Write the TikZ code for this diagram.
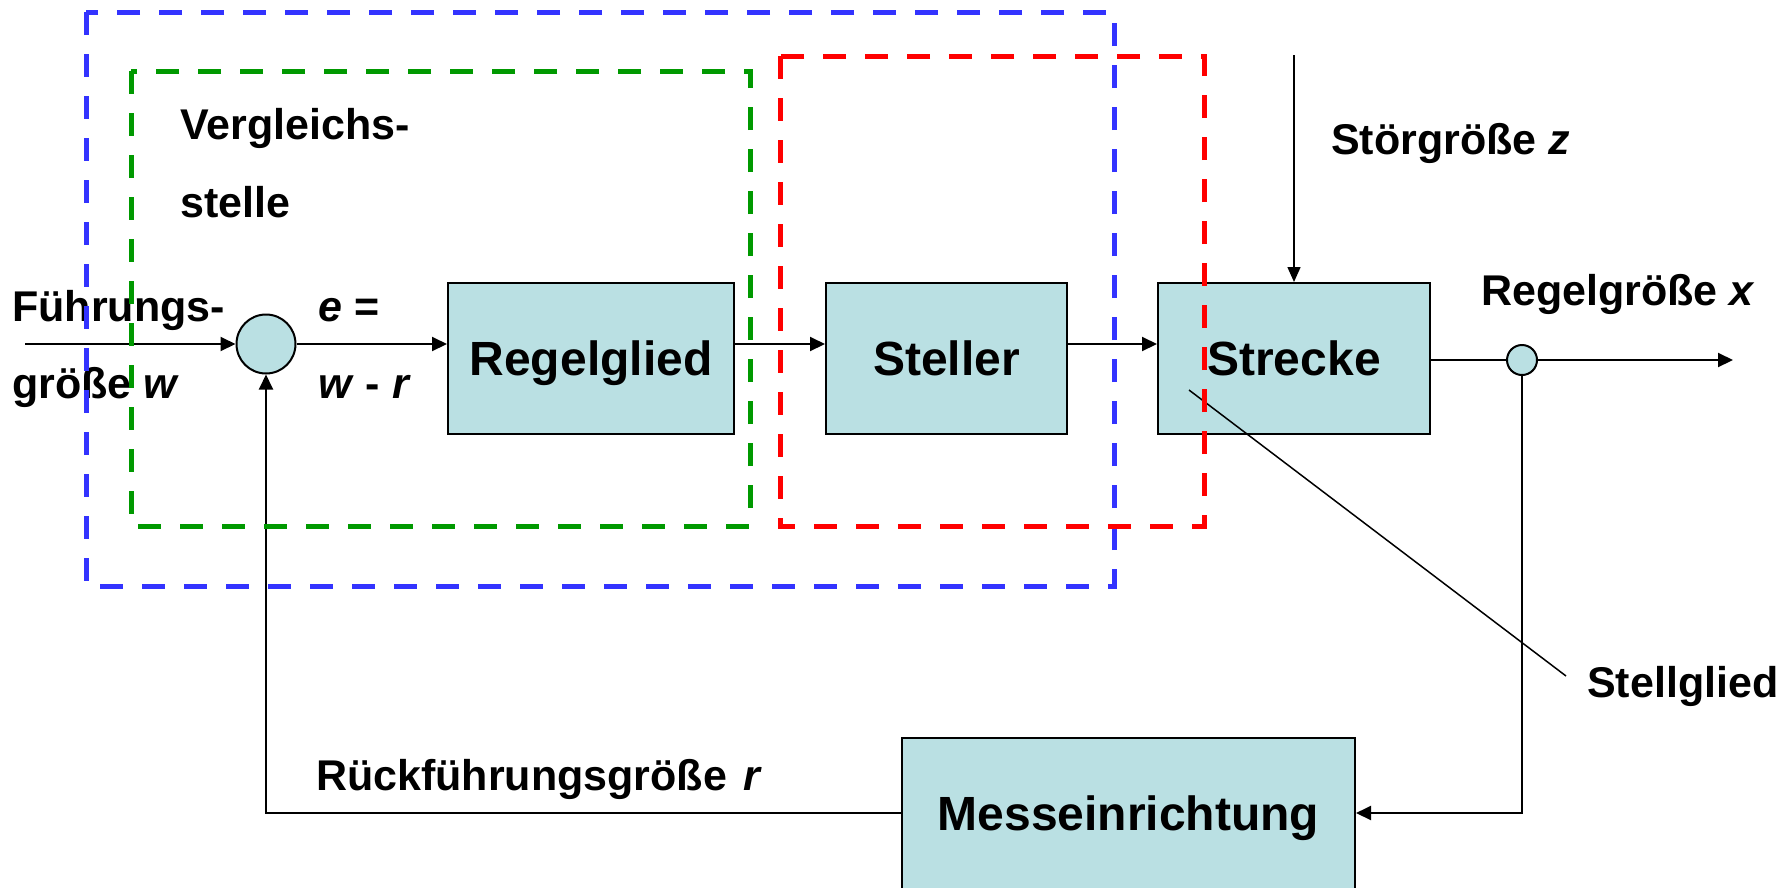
\documentclass[tikz,border=0pt]{standalone}
\usepackage{fontspec}
\setmainfont{Liberation Sans}
\usetikzlibrary{arrows.meta}
\definecolor{boxfill}{RGB}{186,224,227}
\definecolor{dblue}{RGB}{51,51,255}
\definecolor{dgreen}{RGB}{0,153,0}
\definecolor{dred}{RGB}{255,0,0}
\begin{document}
\begin{tikzpicture}[x=1pt,y=-1pt,
  blk/.style={draw=black, line width=2pt, fill=boxfill, minimum width=#1, minimum height=151pt,
    inner sep=0pt, font=\fontsize{48}{50}\selectfont\bfseries, text height=34pt, text depth=0pt},
  sumc/.style={circle, draw=black, line width=2pt, fill=boxfill, minimum size=#1, inner sep=0pt},
  lbl/.style={anchor=base west, inner sep=0pt, font=\fontsize{43}{46}\selectfont\bfseries},
  conn/.style={line width=2pt, -{Triangle[length=15pt,width=14pt]}},
  plain/.style={line width=2pt},
  thin/.style={line width=1.5pt},
  grp/.style={line width=5pt, dash pattern=on 23pt off 19pt, draw=#1}
]
\useasboundingbox (0,0) rectangle (1791,887);

% blocks
\node[blk=286pt] (reg) at (591,358.5) {Regelglied};
\node[blk=241pt] (stel) at (946.5,358.5) {Steller};
\node[blk=272pt] (str) at (1294,358.5) {Strecke};
\node[blk=453pt] (mess) at (1128.5,813) {Messeinrichtung};
\node[sumc=59pt] (sum) at (266,344) {};
\node[sumc=30pt] (out) at (1522,360) {};

% free ends
\coordinate (win) at (25,344);
\coordinate (xend) at (1733,360);
\coordinate (ztop) at (1294,55);
\coordinate (sgA) at (1189,390);
\coordinate (sgB) at (1566,676);

% connectors
\draw[conn] (win) -- (sum.west);
\draw[conn] (sum.east) -- (sum.east -| reg.west);
\draw[conn] (reg.east |- sum.east) -- (stel.west |- sum.east);
\draw[conn] (stel.east |- sum.east) -- (str.west |- sum.east);
\draw[plain] (str.east |- out.west) -- (out.west);
\draw[conn] (out.east) -- (xend);
\draw[conn] (out.south) |- (mess.east);
\draw[conn] (mess.west) -| (sum.south);
\draw[thin, -{Triangle[length=15pt,width=13pt]}] (ztop) -- (str.north);
\draw[thin] (sgA) -- (sgB);

% labels
\node[lbl] (l1) at (180,139) {Vergleichs-};
\node[lbl] (l2) at (180,217) {stelle};
\node[lbl] (l3) at (12,321) {Führungs-};
\node[lbl] (l4) at (12,398) {größe \textit{w}};
\node[lbl] (l5) at (318,321) {\textit{e} =};
\node[lbl] (l6) at (318,398) {\textit{w} - \textit{r}};
\node[lbl] (l7) at (1331,154) {Störgröße \textit{z}};
\node[lbl] (l8) at (1481,305) {Regelgröße \textit{x}};
\node[lbl] (l9) at (1587,697) {Stellglied};
\node[lbl] (l10) at (316,790) {Rückführungsgröße\hspace{4pt} \textit{r}};

% dashed groups
\draw[grp=dblue] (86,12) rectangle (1114,586);
\draw[grp=dgreen] (131,71) rectangle (750,526);
\draw[grp=dred] (780,56) rectangle (1204,526);
\end{tikzpicture}
\end{document}
